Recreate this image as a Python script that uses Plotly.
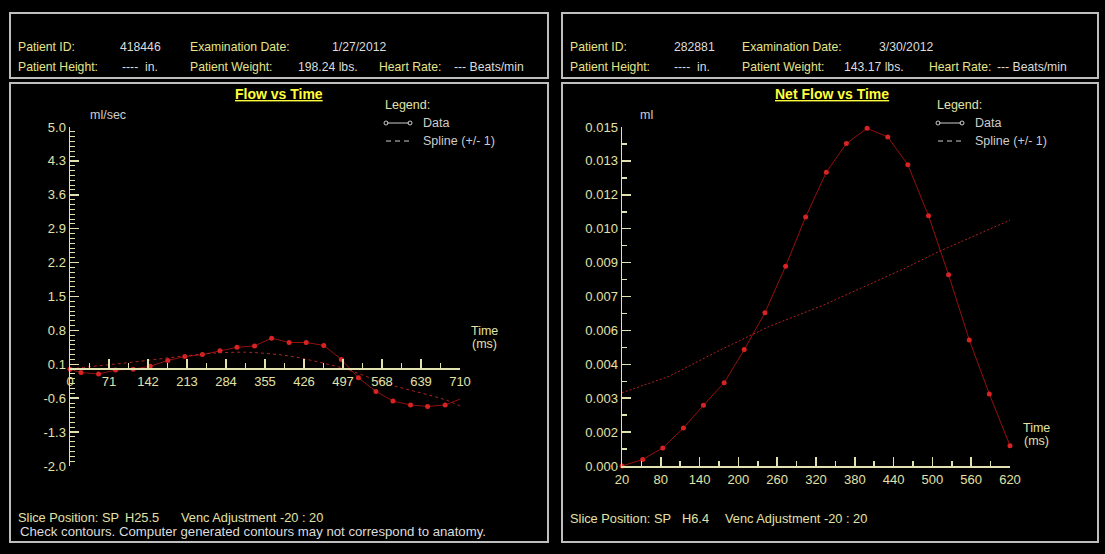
import plotly.graph_objects as go

W, H = 1105, 554

# ---------------- data ----------------
left_time = [0, 20, 52, 83, 115, 146, 178, 209, 241, 273, 304, 336, 367, 399,
             430, 462, 494, 525, 557, 588, 620, 651, 683, 712]
left_flow = [0.00, -0.07, -0.10, -0.02, 0.00, 0.06, 0.18, 0.26, 0.30, 0.38, 0.45,
             0.48, 0.64, 0.55, 0.55, 0.49, 0.20, -0.18, -0.46, -0.66, -0.74,
             -0.77, -0.74, -0.61]
left_spline_time = [0, 35, 95, 155, 215, 260, 320, 350, 380, 410, 440, 470, 500,
                    530, 560, 595, 625, 655, 685, 710]
left_spline = [0.00, 0.05, 0.12, 0.20, 0.28, 0.33, 0.35, 0.33, 0.30, 0.25, 0.18,
               0.10, 0.01, -0.11, -0.24, -0.36, -0.45, -0.54, -0.64, -0.76]
left_xticks = [0, 71, 142, 213, 284, 355, 426, 497, 568, 639, 710]
left_yticks = [-2.0, -1.3, -0.6, 0.1, 0.8, 1.5, 2.2, 2.9, 3.6, 4.3, 5.0]
left_ytext = ["-2.0", "-1.3", "-0.6", "0.1", "0.8", "1.5", "2.2", "2.9", "3.6", "4.3", "5.0"]

right_time = [20, 52, 83, 115, 146, 178, 209, 241, 273, 304, 336, 367, 399, 431,
              462, 494, 525, 557, 588, 620]
right_volume = [0.0, 0.00029, 0.00080, 0.00168, 0.00269, 0.00368, 0.00515, 0.00678,
                0.00884, 0.01102, 0.01300, 0.01427, 0.01494, 0.01456, 0.01333,
                0.01107, 0.00846, 0.00558, 0.00319, 0.00090]
right_spline_time = [20, 93, 171, 248, 330, 456, 510, 620]
right_spline = [0.00324, 0.00397, 0.00512, 0.00618, 0.00710, 0.00873, 0.00949, 0.01088]
right_xticks = [20, 80, 140, 200, 260, 320, 380, 440, 500, 560, 620]
right_yticks = [0.0, 0.0015, 0.003, 0.0045, 0.006, 0.0075, 0.009, 0.0105, 0.012, 0.0135, 0.015]
right_ytext = ["0.000", "0.002", "0.003", "0.004", "0.006", "0.007", "0.009",
               "0.010", "0.012", "0.013", "0.015"]

# ---------------- styling helpers ----------------
FONT = "Liberation Sans, Arial, sans-serif"
AXIS = "rgb(226,226,176)"
TICKTXT = "rgb(226,226,168)"
LABEL = "rgb(228,228,140)"
VALUE = "rgb(220,220,220)"
TITLE = "rgb(255,255,60)"
GRAYTXT = "rgb(205,205,205)"
BOX = "rgb(190,190,190)"
DATA_LINE = "rgb(150,15,15)"
DATA_MARK = "rgb(215,35,35)"
SPLINE = "rgb(175,35,35)"


def px(x):
    return x / W


def py(y):
    return 1 - y / H


fig = go.Figure()

fig.add_trace(go.Scatter(x=left_time, y=left_flow, mode="lines+markers",
                         line=dict(color=DATA_LINE, width=1),
                         marker=dict(color=DATA_MARK, size=5),
                         xaxis="x", yaxis="y", showlegend=False, cliponaxis=False))
fig.add_trace(go.Scatter(x=left_spline_time, y=left_spline, mode="lines",
                         line=dict(color=SPLINE, width=1, dash="3px,3px", shape="spline"),
                         xaxis="x", yaxis="y", showlegend=False, cliponaxis=False))
fig.add_trace(go.Scatter(x=right_time, y=right_volume, mode="lines+markers",
                         line=dict(color=DATA_LINE, width=1),
                         marker=dict(color=DATA_MARK, size=5),
                         xaxis="x2", yaxis="y2", showlegend=False, cliponaxis=False))
fig.add_trace(go.Scatter(x=right_spline_time, y=right_spline, mode="lines",
                         line=dict(color=SPLINE, width=1, dash="2px,2px"),
                         xaxis="x2", yaxis="y2", showlegend=False, cliponaxis=False))

ydom = [py(466), py(127)]
zero_pos = py(127 + (5 / 7) * (466 - 127))


def axis_common():
    return dict(showgrid=False, zeroline=False, showline=True, linecolor=AXIS,
                ticks="inside", tickcolor=AXIS, tickwidth=1.5, ticklen=9,
                automargin=False,
                tickfont=dict(family=FONT, size=13, color=TICKTXT), fixedrange=True)


fig.update_layout(
    xaxis=dict(**axis_common(), domain=[px(70), px(460)], range=[0, 710],
               tickmode="array", tickvals=left_xticks,
               ticktext=[str(v) for v in left_xticks],
               anchor="free", position=zero_pos, linewidth=2,
               minor=dict(ticks="inside", ticklen=5, tickcolor=AXIS, tickwidth=1.5,
                          tick0=0, dtick=35.5, showgrid=False)),
    yaxis=dict(**axis_common(), domain=ydom, range=[-2, 5], anchor="x",
               tickmode="array", tickvals=left_yticks, ticktext=left_ytext,
               linewidth=1.5,
               minor=dict(ticks="inside", ticklen=5, tickcolor=AXIS, tickwidth=1,
                          tick0=-2, dtick=0.1, showgrid=False)),
    xaxis2=dict(**axis_common(), domain=[px(622), px(1010)], range=[20, 620],
                tickmode="array", tickvals=right_xticks,
                ticktext=[str(v) for v in right_xticks],
                anchor="y2", linewidth=2,
                minor=dict(ticks="inside", ticklen=5, tickcolor=AXIS, tickwidth=1.5,
                           tick0=20, dtick=30, showgrid=False)),
    yaxis2=dict(**axis_common(), domain=ydom, range=[0, 0.015], anchor="x2",
                tickmode="array", tickvals=right_yticks, ticktext=right_ytext,
                linewidth=1.5,
                minor=dict(ticks="inside", ticklen=5, tickcolor=AXIS, tickwidth=1.5,
                           tick0=0, dtick=0.00075, showgrid=False)),
)

# ---------------- frames ----------------
shapes = []
for x0, x1 in [(10, 548), (562, 1098)]:
    shapes.append(dict(type="rect", xref="paper", yref="paper", x0=px(x0), x1=px(x1),
                       y0=py(78), y1=py(13), line=dict(color=BOX, width=2)))
    shapes.append(dict(type="rect", xref="paper", yref="paper", x0=px(x0), x1=px(x1),
                       y0=py(542), y1=py(83), line=dict(color=BOX, width=2)))

# legend glyphs
for off in [0, 552]:
    shapes.append(dict(type="line", xref="paper", yref="paper", x0=px(387 + off),
                       x1=px(409 + off), y0=py(123), y1=py(123),
                       line=dict(color=GRAYTXT, width=1)))
    for cx in (386 + off, 410 + off):
        shapes.append(dict(type="circle", xref="paper", yref="paper",
                           x0=px(cx - 2), x1=px(cx + 2), y0=py(125), y1=py(121),
                           line=dict(color=GRAYTXT, width=1)))
    shapes.append(dict(type="line", xref="paper", yref="paper", x0=px(386 + off),
                       x1=px(410 + off), y0=py(141), y1=py(141),
                       line=dict(color=GRAYTXT, width=1, dash="5px,4px")))

annotations = []


def txt(x, y, s, color, size=12.5, anchor="left"):
    annotations.append(dict(x=px(x), y=py(y), xref="paper", yref="paper", text=s,
                            showarrow=False, xanchor=anchor, yanchor="middle",
                            font=dict(family=FONT, size=size, color=color)))


# headers
hdr = [
    (0, "418446", "1/27/2012", "198.24 lbs.", 118, 330, 296, 377, 452),
    (552, "282881", "3/30/2012", "143.17 lbs.", 672, 877, 842, 927, 995),
]
for off, pid, date, wt, xid, xdate, xwt, xhr, xbeats in hdr:
    txt(16 + off, 47, "Patient ID:", LABEL, size=12.2)
    txt(xid, 47, pid, VALUE, size=12.2)
    txt(188 + off, 47, "Examination Date:", LABEL, size=12.2)
    txt(xdate, 47, date, VALUE, size=12.2)
    txt(16 + off, 67, "Patient Height:", LABEL, size=12.2)
    txt(120 + off, 67, "----  in.", VALUE, size=12.2)
    txt(188 + off, 67, "Patient Weight:", LABEL, size=12.2)
    txt(xwt, 67, wt, VALUE, size=12.2)
    txt(xhr, 67, "Heart Rate:", LABEL, size=12.2)
    txt(xbeats, 67, "--- Beats/min", VALUE, size=12.2)

# titles
txt(279, 94, "<b><u>Flow vs Time</u></b>", TITLE, size=14, anchor="center")
txt(832, 94, "<b><u>Net Flow vs Time</u></b>", TITLE, size=14, anchor="center")

# legends
for off in [0, 552]:
    txt(383 + off, 105, "Legend:", TICKTXT)
    txt(421 + off, 123, "Data", GRAYTXT)
    txt(421 + off, 141, "Spline (+/- 1)", GRAYTXT)

# unit labels
txt(88, 115, "ml/sec", GRAYTXT)
txt(638, 115, "ml", GRAYTXT)
txt(484, 331, "Time", TICKTXT, anchor="center")
txt(484, 344, "(ms)", TICKTXT, anchor="center")
txt(1036, 428, "Time", TICKTXT, anchor="center")
txt(1036, 441, "(ms)", TICKTXT, anchor="center")

# footers
txt(16, 517, "Slice Position: SP", TICKTXT, size=12.8)
txt(123, 517, "H25.5", TICKTXT, size=12.8)
txt(179, 517, "Venc Adjustment -20 : 20", TICKTXT, size=12.8)
txt(18, 531, "Check contours. Computer generated contours may not correspond to anatomy.",
    VALUE, size=13.2)
txt(568, 518, "Slice Position: SP", TICKTXT, size=12.8)
txt(680, 518, "H6.4", TICKTXT, size=12.8)
txt(723, 518, "Venc Adjustment -20 : 20", TICKTXT, size=12.8)

fig.update_layout(width=W, height=H,
                  margin=dict(l=0, r=0, t=0, b=0, pad=0, autoexpand=False),
                  paper_bgcolor="black", plot_bgcolor="black",
                  shapes=shapes, annotations=annotations, showlegend=False)

fig.write_html(
    "out.html",
    config={"displayModeBar": False, "staticPlot": True},
    post_script="document.body.style.margin='0';document.body.style.padding='0';"
                "document.body.style.background='black';"
                "document.body.style.overflow='hidden';",
)
